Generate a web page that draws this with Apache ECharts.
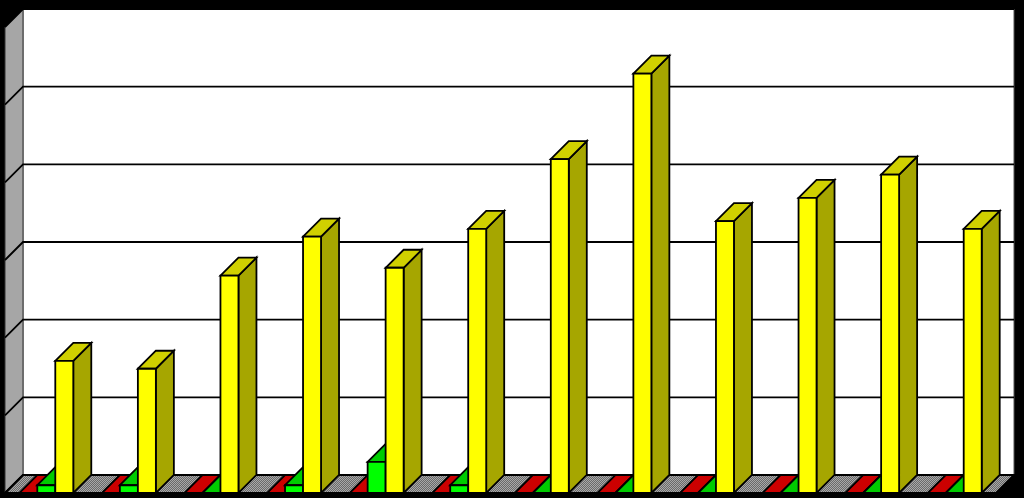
<!DOCTYPE html>
<html>
<head>
<meta charset="utf-8">
<style>html,body{margin:0;padding:0;background:#000}#c{width:1024px;height:498px}</style>
<script src="https://cdn.jsdelivr.net/npm/echarts@6/dist/echarts.min.js"></script>
</head>
<body>
<div id="c"></div>
<script>
const categories = ['1','2','3','4','5','6','7','8','9','10','11','12'];
const redValues = [0,0,0,0,0,0,0,0,0,0,0,0];
const greenValues = [1,1,0,1,4,1,0,0,0,0,0,0];
const yellowValues = [17,16,28,33,29,34,43,54,35,38,41,34];
const yTicks = [0,10,20,30,40,50,60];

const DEPTH = 18, BAR_RATIO = 18 / 82.6, LINE = 1.8;

const cv = document.createElement('canvas');
cv.width = 4; cv.height = 4;
const cx = cv.getContext('2d');
cx.fillStyle = '#a8a8a8'; cx.fillRect(0,0,4,4);
cx.fillStyle = '#6a6a6a';
for (let i = 0; i < 4; i++) { cx.fillRect(i, 3 - i, 1, 1); cx.fillRect((i + 2) % 4, 3 - i, 1, 1); }
const hatch = { image: cv, repeat: 'repeat' };

function poly(points, fill) {
  return { type: 'polygon', shape: { points }, style: { fill, stroke: '#000', lineWidth: LINE, lineJoin: 'miter' } };
}

function wallsRender(params) {
  const g = params.coordSys, x = g.x, y = g.y, w = g.width, h = g.height, d = DEPTH;
  return { type: 'group', children: [
    { type: 'rect', shape: { x: x + d, y: y - d, width: w, height: h }, style: { fill: '#fff', stroke: '#555', lineWidth: 1 } },
    { type: 'polygon', shape: { points: [[x, y], [x + d, y - d], [x + d, y + h - d], [x, y + h]] }, style: { fill: '#a6a6a6', stroke: '#333', lineWidth: 1 } },
    { type: 'polygon', shape: { points: [[x, y + h], [x + d, y + h - d], [x + w + d, y + h - d], [x + w, y + h]] }, style: { fill: hatch, stroke: '#000', lineWidth: LINE } }
  ] };
}

function gridRender(params, api) {
  const g = params.coordSys, d = DEPTH, p = api.coord([0, api.value(0)]);
  const yy = p[1];
  return { type: 'polyline', shape: { points: [[g.x, yy], [g.x + d, yy - d], [g.x + g.width + d, yy - d]] },
    style: { fill: 'none', stroke: '#000', lineWidth: LINE } };
}

function barRender(slot, front, side, top) {
  return function (params, api) {
    const i = api.value(0), v = api.value(1), d = DEPTH;
    const step = api.size([1, 0])[0], bw = step * BAR_RATIO;
    const c = api.coord([i, v]), z = api.coord([i, 0]);
    const x0 = c[0] + (slot - 1.5) * bw, x1 = x0 + bw, yT = c[1], yB = z[1];
    const kids = [];
    if (v > 0) {
      kids.push(poly([[x1, yT], [x1 + d, yT - d], [x1 + d, yB - d], [x1, yB]], side));
    }
    kids.push(poly([[x0, yT], [x0 + d, yT - d], [x1 + d, yT - d], [x1, yT]], top));
    if (v > 0) {
      kids.push(poly([[x0, yT], [x1, yT], [x1, yB], [x0, yB]], front));
    }
    return { type: 'group', children: kids };
  };
}

function barSeries(values, slot, front, side, top) {
  return { type: 'custom', clip: false, renderItem: barRender(slot, front, side, top),
    encode: { x: 0, y: 1 }, data: values.map((v, i) => [i, v]), z: 5 };
}

const chart = echarts.init(document.getElementById('c'));
chart.setOption({
  animation: false,
  backgroundColor: '#000',
  grid: { left: 5, right: 28, top: 27, bottom: 5 },
  xAxis: { type: 'category', data: categories, show: false },
  yAxis: { type: 'value', min: 0, max: 60, interval: 10, show: false },
  series: [
    { type: 'custom', clip: false, renderItem: wallsRender, encode: { y: 0 }, data: [[0]], z: 1 },
    { type: 'custom', clip: false, renderItem: gridRender, encode: { y: 0 }, data: yTicks.map(v => [v]), z: 2 },
    barSeries(redValues, 0, '#ff0000', '#a00000', '#cc0000'),
    barSeries(greenValues, 1, '#00ff00', '#00a000', '#00cc00'),
    barSeries(yellowValues, 2, '#ffff00', '#a6a600', '#d0d000')
  ]
});
</script>
</body>
</html>
